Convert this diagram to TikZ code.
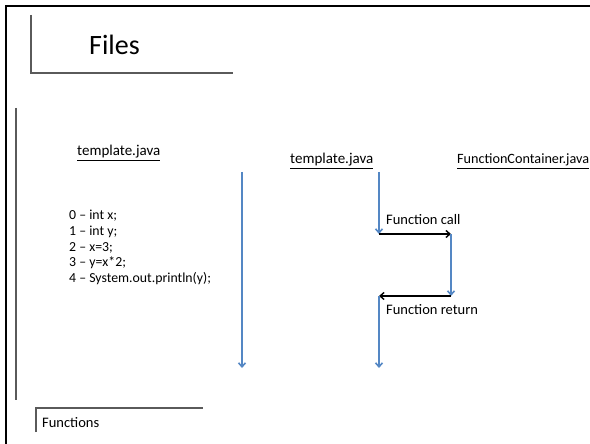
\documentclass[tikz,border=0pt]{standalone}
\usepackage{fontspec}
\setmainfont{Carlito}
\usetikzlibrary{arrows.meta}
\definecolor{flowblue}{RGB}{84,135,196}
\definecolor{rulegray}{RGB}{90,90,90}
\tikzset{
  txt/.style={anchor=base west, inner sep=0pt, font=\fontsize{14.5}{16}\selectfont},
  fname/.style={anchor=base west, inner sep=0pt, font=\fontsize{15}{16}\selectfont},
  code/.style={anchor=north west, inner sep=0pt, align=left, font=\fontsize{13.8}{15.7}\selectfont},
  flow/.style={draw=flowblue, line width=1.6pt, -{Straight Barb[length=4pt,width=7pt]}},
  jump/.style={draw=black, line width=1.4pt, -{Straight Barb[length=4pt,width=7pt]}},
  rule/.style={draw=rulegray, line width=1.1pt},
}
\begin{document}
\begin{tikzpicture}[x=1pt,y=-1pt]
\useasboundingbox (0,0) rectangle (590,444);
% outer frame
\draw[line width=2pt] (6,446) -- (6,6) -- (592,6);
% Files heading
\draw[rule] (31,15) -- (31,73) -- (233,73);
\node[anchor=base west, inner sep=0pt, font=\fontsize{28}{30}\selectfont] (files) at (89,55) {Files};
% left rule
\draw[rule] (16,108) -- (16,400);
% left file
\node[fname] (tpl1) at (77,156) {\underline{template.java}};
\node[code] (codelines) at (69,210) {0 -- int x;\\1 -- int y;\\2 -- x=3;\\3 -- y=x*2;\\4 -- System.out.println(y);};
\coordinate (a1) at (242,172);
\coordinate (a2) at (242,368);
\draw[flow] (a1) -- (a2);
% right files
\node[fname] (tpl2) at (290,164) {\underline{template.java}};
\node[fname, font=\fontsize{14.2}{16}\selectfont] (fc) at (457,164) {\underline{FunctionContainer.java}};
\coordinate (b1) at (379,172);
\coordinate (b2) at (379,234);
\coordinate (c1) at (451,234);
\coordinate (c2) at (451,296);
\coordinate (d1) at (379,296);
\coordinate (d2) at (379,368);
\draw[flow] (b1) -- (b2);
\draw[jump] (b2) -- (c1);
\draw[flow] (c1) -- (c2);
\draw[jump] (c2) -- (d1);
\draw[flow] (d1) -- (d2);
\node[txt] (fcall) at (386,225) {Function call};
\node[txt] (fret) at (386,314) {Function return};
% Functions heading
\draw[rule] (36,432) -- (36,408) -- (203,408);
\node[anchor=base west, inner sep=0pt, font=\fontsize{14.5}{16}\selectfont] (funcs) at (42,427) {Functions};
\end{tikzpicture}
\end{document}
